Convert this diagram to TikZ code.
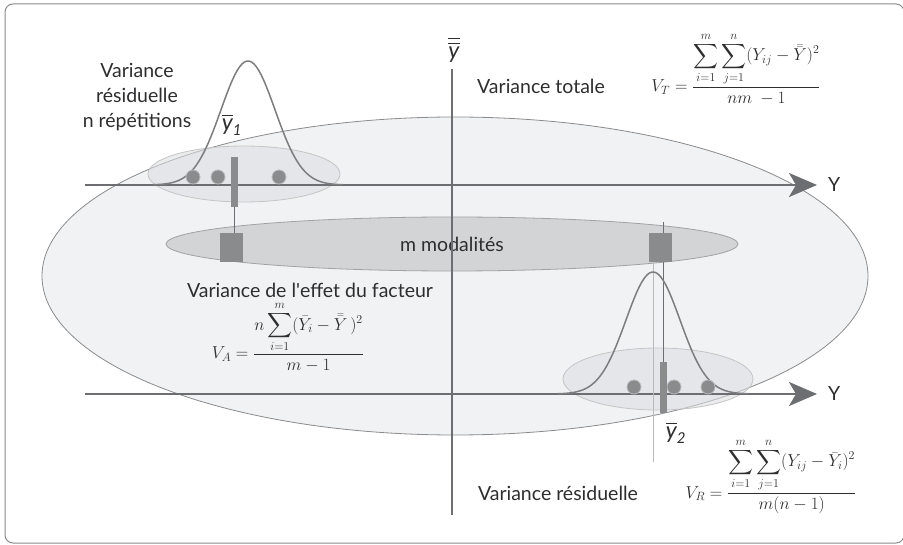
\documentclass[tikz,border=0pt]{standalone}
\usepackage[no-math]{fontspec}
\setmainfont{Lato}
\usepackage{amsmath}
\usetikzlibrary{arrows.meta,shapes.geometric,positioning}
\definecolor{axisgray}{HTML}{6D6E71}
\definecolor{linegray}{HTML}{8A8B8D}
\definecolor{bigfill}{HTML}{F1F2F4}
\definecolor{modfill}{HTML}{D3D4D6}
\definecolor{cloudfill}{HTML}{DCDDE0}
\definecolor{inkgray}{HTML}{2E2E30}
\newcommand{\ymean}[1]{$\overline{\mbox{\itshape y}}_{\mbox{\fontsize{15}{15}\selectfont\itshape #1}}$}
\tikzstyle{frame} = [draw=linegray, line width=1pt, rounded corners=8pt]
\tikzstyle{axis} = [draw=axisgray, line width=2.5pt, -{Stealth[length=28pt,width=24pt,inset=7pt]}]
\tikzstyle{gauss} = [draw=axisgray!90, line width=1.5pt]
\tikzstyle{cloud} = [ellipse, draw=linegray!50, fill=cloudfill, fill opacity=0.55, line width=0.8pt, inner sep=0pt]
\tikzstyle{obs} = [circle, draw=linegray!60, fill=linegray, minimum size=14pt, inner sep=0pt, line width=0.8pt]
\tikzstyle{meanbar} = [rectangle, fill=linegray, minimum width=7pt, inner sep=0pt]
\tikzstyle{meanbox} = [rectangle, fill=linegray, minimum width=23pt, minimum height=29pt, inner sep=0pt]
\tikzstyle{link} = [draw=axisgray, line width=0.8pt]
\tikzstyle{guide} = [draw=linegray!60, line width=1pt]
\tikzstyle{txt} = [text=inkgray, font=\fontsize{19.5}{25}\selectfont, inner sep=0pt]
\tikzstyle{ylab} = [text=inkgray, font=\fontsize{23}{25}\selectfont, inner sep=0pt]
\tikzstyle{formula} = [text=inkgray, font=\fontsize{16.5}{20}\selectfont, inner sep=0pt, anchor=base]

\begin{document}
\begin{tikzpicture}[x=1pt, y=-1pt]
    \useasboundingbox (0,0) rectangle (903,545);
    \draw[frame, fill=white] (5,4) rectangle (904,543);

    % Variance totale : grande ellipse
    \node[ellipse, draw=linegray, fill=bigfill, line width=0.8pt, minimum width=826pt, minimum height=318pt] (total) at (455,276) {};

    % Modalites
    \node[ellipse, draw=linegray!80, fill=modfill, line width=0.8pt, minimum width=572pt, minimum height=54pt, txt] (modal) at (452,244) {m modalités};

    % Repetitions de la modalite 1
    \node[cloud, minimum width=192pt, minimum height=56pt] (cloud1) at (244,174) {};
    \coordinate (ax1s) at (85,185);
    \coordinate (ax1e) at (817,185);
    \draw[axis] (ax1s) -- (ax1e);
    \node[txt, right=11pt of ax1e] (y1) {Y};
    \draw[gauss] plot[domain=-95:95, samples=80] ({248+\x},{185-124*exp(-(\x/27)^2/2)});
    \node[obs] (o11) at (193,177) {};
    \node[obs] (o12) at (218,177) {};
    \node[obs] (o13) at (279,177) {};
    \node[meanbar, minimum height=50pt] (bar1) at (234.5,182) {};
    \node[meanbox] (box1) at (231.5,247.5) {};
    \draw[link] (bar1.south) -- (bar1.south |- box1.north);
    \node[ylab] (ybar1) at (232,125) {\ymean{1}};

    % Repetitions de la modalite 2
    \node[cloud, minimum width=190pt, minimum height=62pt] (cloud2) at (658,379) {};
    \coordinate (ax2s) at (85,394);
    \coordinate (ax2e) at (817,394);
    \draw[axis] (ax2s) -- (ax2e);
    \node[txt, right=11pt of ax2e] (y2) {Y};
    \coordinate (top2) at (663,222);
    \coordinate (foot2) at (653,462);
    \draw[link] (top2) -- (663,362);
    \node[meanbox] (box2) at (660.5,247.5) {};
    \draw[guide] (box2.south -| foot2) -- (foot2);
    \draw[gauss] plot[domain=-95:95, samples=80] ({653+\x},{394-122*exp(-(\x/27)^2/2)});
    \node[obs] (o21) at (634,387) {};
    \node[obs] (o22) at (674,387) {};
    \node[obs] (o23) at (708,387) {};
    \node[meanbar, minimum height=51pt] (bar2) at (663.5,387.5) {};
    \node[ylab] (ybar2) at (676,433) {\ymean{2}};

    % Axe vertical
    \node[ylab] (ybb) at (454,50) {$\overline{\overline{\mbox{\itshape y}}}$};
    \coordinate (vend) at (452,515);
    \draw[draw=axisgray, line width=2.5pt] (ybb.south -| vend) ++(0,6) -- (vend);

    % Textes
    \node[txt, align=center] (resid1) at (137,97) {Variance\\résiduelle\\n répétitions};
    \node[txt] (vtot) at (541,86) {Variance totale};
    \node[txt] (veff) at (310,290) {Variance de l\textquotesingle effet du facteur};
    \node[txt] (vres) at (558,493) {Variance résiduelle};

    % Formules
    \node[formula] (fT) at (736,92) {$V_T = \dfrac{\displaystyle\sum_{i=1}^{m}\sum_{j=1}^{n} (Y_{ij} - \bar{\bar{Y}})^2}{nm\ -1}$};
    \node[formula] (fA) at (288,359) {$V_A = \dfrac{n\displaystyle\sum_{i=1}^{m} (\bar{Y}_i - \bar{\bar{Y}}\,)^2}{m - 1}$};
    \node[formula] (fR) at (771,498) {$V_R = \dfrac{\displaystyle\sum_{i=1}^{m}\sum_{j=1}^{n} (Y_{ij} - \bar{Y}_i)^2}{m(n - 1)}$};
\end{tikzpicture}
\end{document}
